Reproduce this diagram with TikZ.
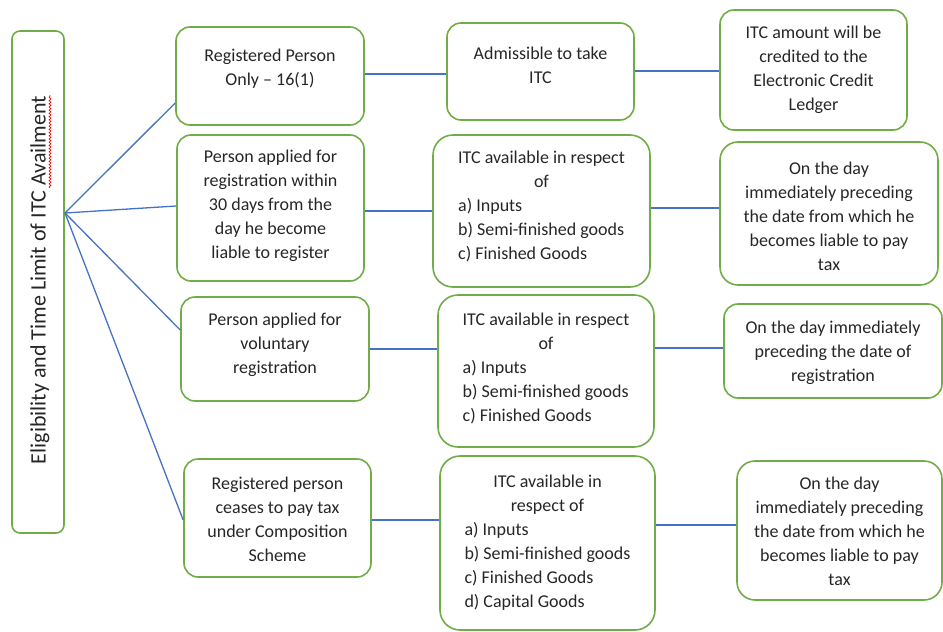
\documentclass[tikz,border=0pt]{standalone}
\usepackage{fontspec}
\setmainfont{Carlito}
\usetikzlibrary{calc,decorations.pathmorphing}
\definecolor{boxgreen}{RGB}{112,173,71}
\definecolor{linkblue}{RGB}{68,114,196}
\def\head#1{\multicolumn{1}{@{}c@{}}{#1}}
\tikzset{
	box/.style={draw=boxgreen, line width=1.6pt, rounded corners=14pt},
	txt/.style={align=center, inner sep=0pt, text=black!85, font=\fontsize{18}{24}\selectfont},
	link/.style={draw=linkblue, line width=1.3pt},
}

\begin{document}
\begin{tikzpicture}[x=1pt, y=-1pt]
		%%%%% START %%%%%
		\useasboundingbox (0,0) rectangle (943,632);
		
		% title
		\node[box, rounded corners=8pt, minimum width=52pt, minimum height=502pt] (T) at (38,282) {};
		\node[txt, rotate=90, font=\fontsize{22}{26}\selectfont] (Tt) at (40,280) {Eligibility and Time Limit of ITC Availment};
		\draw[red, line width=0.7pt, decorate, decoration={snake, amplitude=0.9pt, segment length=3.2pt}] (50,188) -- (50,95);
		\coordinate (hub) at (65,213);
		
		% first column
		\node[box, minimum width=188pt, minimum height=98pt] (A1) at (270,76) {};
		\node[txt] (A1t) at (270,69) {Registered Person\\Only – 16(1)};
		\node[box, minimum width=187pt, minimum height=146pt] (A2) at (270.5,208) {};
		\node[txt] (A2t) at (270.5,206) {Person applied for\\registration within\\30 days from the\\day he become\\liable to register};
		\node[box, minimum width=188pt, minimum height=104pt] (A3) at (275,349) {};
		\node[txt] (A3t) at (275,345) {Person applied for\\voluntary\\registration};
		\node[box, minimum width=187pt, minimum height=118pt] (A4) at (277.5,518) {};
		\node[txt] (A4t) at (277.5,519) {Registered person\\ceases to pay tax\\under Composition\\Scheme};
		
		% second column
		\node[box, minimum width=187pt, minimum height=97pt] (B1) at (540.5,71.5) {};
		\node[txt] (B1t) at (540.5,65) {Admissible to take\\ITC};
		\node[box, rounded corners=20pt, minimum width=217pt, minimum height=152pt] (B2) at (541.5,211) {};
		\node[txt] (B2t) at (541.5,207) {\begin{tabular}{@{}l@{}}\head{ITC available in respect}\\\head{of}\\a) Inputs\\b) Semi-finished goods\\c) Finished Goods\end{tabular}};
		\node[box, rounded corners=20pt, minimum width=216pt, minimum height=152pt] (B3) at (546,371) {};
		\node[txt] (B3t) at (546,369) {\begin{tabular}{@{}l@{}}\head{ITC available in respect}\\\head{of}\\a) Inputs\\b) Semi-finished goods\\c) Finished Goods\end{tabular}};
		\node[box, rounded corners=20pt, minimum width=215pt, minimum height=174pt] (B4) at (547.5,543) {};
		\node[txt] (B4t) at (547.5,543) {\begin{tabular}{@{}l@{}}\head{ITC available in}\\\head{respect of}\\a) Inputs\\b) Semi-finished goods\\c) Finished Goods\\d) Capital Goods\end{tabular}};
		
		% third column
		\node[box, minimum width=187pt, minimum height=120pt] (C1) at (813.5,70) {};
		\node[txt] (C1t) at (813.5,70) {ITC amount will be\\credited to the\\Electronic Credit\\Ledger};
		\node[box, rounded corners=18pt, minimum width=218pt, minimum height=143pt] (C2) at (829,213.5) {};
		\node[txt] (C2t) at (829,216) {On the day\\immediately preceding\\the date from which he\\becomes liable to pay\\tax};
		\node[box, minimum width=218pt, minimum height=94pt] (C3) at (833,351) {};
		\node[txt] (C3t) at (833,353) {On the day immediately\\preceding the date of\\registration};
		\node[box, rounded corners=18pt, minimum width=205pt, minimum height=139pt] (C4) at (839.5,530.5) {};
		\node[txt] (C4t) at (839.5,531) {On the day\\immediately preceding\\the date from which he\\becomes liable to pay\\tax};
		
		% links from the title
		\draw[link] (hub) -- ([yshift=-27pt]A1.west);
		\draw[link] (hub) -- ([yshift=2pt]A2.west);
		\draw[link] (hub) -- ([yshift=19pt]A3.west);
		\draw[link] (hub) -- ([yshift=-2pt]A4.west);
		
		% links along the rows
		\draw[link] ([yshift=2pt]A1.east) -- ([yshift=2pt]A1.east -| B1.west);
		\draw[link] ([yshift=0.5pt]B1.east) -- ([yshift=0.5pt]B1.east -| C1.west);
		\draw[link] (B2.west -| A2.east) -- (B2.west);
		\draw[link] ([yshift=3pt]B2.east) -- ([yshift=3pt]B2.east -| C2.west);
		\draw[link] (A3.east) -- (A3.east -| B3.west);
		\draw[link] ([yshift=3pt]C3.west -| B3.east) -- ([yshift=3pt]C3.west);
		\draw[link] ([yshift=-2pt]A4.east) -- ([yshift=-2pt]A4.east -| B4.west);
		\draw[link] ([yshift=5.5pt]C4.west -| B4.east) -- ([yshift=5.5pt]C4.west);
		
		%%%%% END %%%%%
\end{tikzpicture}
\end{document}
